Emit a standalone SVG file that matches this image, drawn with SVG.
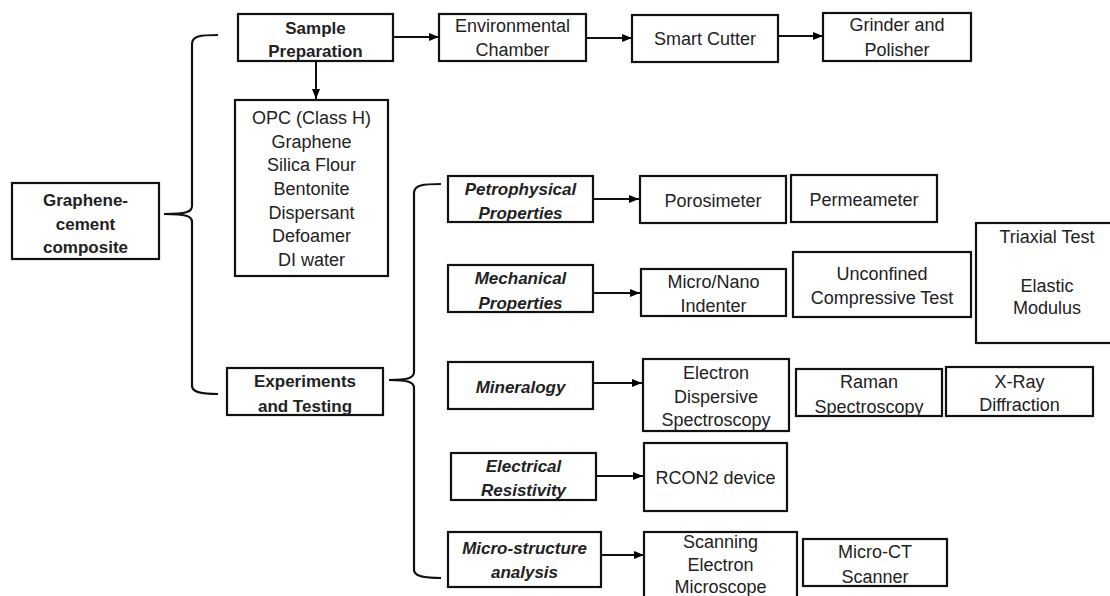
<svg xmlns="http://www.w3.org/2000/svg" width="1110" height="596" viewBox="0 0 1110 596">
<defs>
<marker id="ah" markerUnits="userSpaceOnUse" markerWidth="10" markerHeight="10" viewBox="0 0 10 10" refX="10" refY="5" orient="auto">
<path d="M0,1 L10,5 L0,9 Z" fill="#000"/>
</marker>
<style>
.box{fill:#fff;stroke:#111;stroke-width:2.2}
.t{font-family:"Liberation Sans",Arial,sans-serif;font-size:18px;fill:#222;text-anchor:middle}
.b{font-weight:bold;font-size:17px}
.bi{font-weight:bold;font-style:italic;font-size:17px}
.c{fill:none;stroke:#111;stroke-width:2}
.br{fill:none;stroke:#111;stroke-width:2.2}
</style>
</defs>
<rect width="1110" height="596" fill="#fff"/>
<g id="connectors">
<line class="c" x1="393" y1="37" x2="439" y2="37" marker-end="url(#ah)"/>
<line class="c" x1="586" y1="38" x2="632" y2="38" marker-end="url(#ah)"/>
<line class="c" x1="778" y1="36" x2="823" y2="36" marker-end="url(#ah)"/>
<line class="c" x1="316" y1="61" x2="316" y2="99" marker-end="url(#ah)"/>
<line class="c" x1="593" y1="199" x2="639" y2="199" marker-end="url(#ah)"/>
<line class="c" x1="593" y1="293" x2="640" y2="293" marker-end="url(#ah)"/>
<line class="c" x1="593" y1="383" x2="642" y2="383" marker-end="url(#ah)"/>
<line class="c" x1="596" y1="476" x2="643" y2="476" marker-end="url(#ah)"/>
<line class="c" x1="601" y1="555" x2="644" y2="555" marker-end="url(#ah)"/>
<path class="br" d="M218,35 C200,35 192,36 192,44 V206 C192,212 186,214 164,214 C186,214 192,216 192,222 V386 C192,392 200,394 218,394"/>
<path class="br" d="M441,184 C423,184 414,185 414,193 V372 C414,378 408,380 389,380 C408,380 414,382 414,388 V570 C414,576 423,578 441,578"/>
</g>
<g id="composite"><rect class="box" x="12" y="183" width="147" height="76"/>
<text class="t b" x="85.5" y="206">Graphene-</text><text class="t b" x="85.5" y="230">cement</text><text class="t b" x="85.5" y="253">composite</text></g>
<g id="sample-prep"><rect class="box" x="238" y="14" width="155" height="47"/>
<text class="t b" x="315.5" y="34">Sample</text><text class="t b" x="315.5" y="57">Preparation</text></g>
<g id="materials"><rect class="box" x="235" y="100" width="153" height="176"/>
<text class="t" x="311.5" y="124">OPC (Class H)</text>
<text class="t" x="311.5" y="148">Graphene</text>
<text class="t" x="311.5" y="171">Silica Flour</text>
<text class="t" x="311.5" y="195">Bentonite</text>
<text class="t" x="311.5" y="219">Dispersant</text>
<text class="t" x="311.5" y="242">Defoamer</text>
<text class="t" x="311.5" y="266">DI water</text></g>
<g id="env-chamber"><rect class="box" x="439" y="14" width="147" height="47"/>
<text class="t" x="512.5" y="32">Environmental</text><text class="t" x="512.5" y="56">Chamber</text></g>
<g id="smart-cutter"><rect class="box" x="632" y="15" width="146" height="47"/>
<text class="t" x="705" y="45">Smart Cutter</text></g>
<g id="grinder"><rect class="box" x="823" y="13" width="148" height="48"/>
<text class="t" x="897" y="31">Grinder and</text><text class="t" x="897" y="56">Polisher</text></g>
<g id="experiments"><rect class="box" x="227" y="368" width="156" height="47"/>
<text class="t b" x="305" y="387">Experiments</text><text class="t b" x="305" y="412">and Testing</text></g>
<g id="petrophysical"><rect class="box" x="448" y="176" width="145" height="46"/>
<text class="t bi" x="520.5" y="195">Petrophysical</text><text class="t bi" x="520.5" y="219">Properties</text></g>
<g id="porosimeter"><rect class="box" x="640" y="176" width="146" height="47"/>
<text class="t" x="713" y="207">Porosimeter</text></g>
<g id="permeameter"><rect class="box" x="791" y="175" width="146" height="47"/>
<text class="t" x="864" y="206">Permeameter</text></g>
<g id="mechanical"><rect class="box" x="448" y="265" width="145" height="47"/>
<text class="t bi" x="520.5" y="284">Mechanical</text><text class="t bi" x="520.5" y="309">Properties</text></g>
<g id="indenter"><rect class="box" x="641" y="269" width="145" height="47"/>
<text class="t" x="713.5" y="288">Micro/Nano</text><text class="t" x="713.5" y="312">Indenter</text></g>
<g id="ucs"><rect class="box" x="793" y="252" width="178" height="65"/>
<text class="t" x="882" y="280">Unconfined</text><text class="t" x="882" y="304">Compressive Test</text></g>
<g id="triaxial"><rect class="box" x="976" y="223" width="145" height="120"/>
<text class="t" x="1047" y="243">Triaxial Test</text><text class="t" x="1047" y="292">Elastic</text><text class="t" x="1047" y="314">Modulus</text></g>
<g id="mineralogy"><rect class="box" x="448" y="362" width="145" height="47"/>
<text class="t bi" x="520.5" y="393">Mineralogy</text></g>
<g id="eds"><rect class="box" x="643" y="359" width="146" height="72"/>
<text class="t" x="716" y="379">Electron</text><text class="t" x="716" y="403">Dispersive</text><text class="t" x="716" y="426">Spectroscopy</text></g>
<g id="raman"><rect class="box" x="796" y="369" width="146" height="47"/>
<text class="t" x="869" y="388">Raman</text><text class="t" x="869" y="413">Spectroscopy</text></g>
<g id="xray"><rect class="box" x="946" y="367" width="147" height="49"/>
<text class="t" x="1019.5" y="388">X-Ray</text><text class="t" x="1019.5" y="411">Diffraction</text></g>
<g id="electrical"><rect class="box" x="451" y="453" width="145" height="47"/>
<text class="t bi" x="523.5" y="472">Electrical</text><text class="t bi" x="523.5" y="496">Resistivity</text></g>
<g id="rcon2"><rect class="box" x="644" y="443" width="143" height="68"/>
<text class="t" x="715.5" y="484">RCON2 device</text></g>
<g id="microstructure"><rect class="box" x="448" y="532" width="153" height="55"/>
<text class="t bi" x="524.5" y="554">Micro-structure</text><text class="t bi" x="524.5" y="578">analysis</text></g>
<g id="sem"><rect class="box" x="644" y="532" width="153" height="80"/>
<text class="t" x="720.5" y="548">Scanning</text><text class="t" x="720.5" y="571">Electron</text><text class="t" x="720.5" y="593">Microscope</text></g>
<g id="microct"><rect class="box" x="803" y="539" width="144" height="47"/>
<text class="t" x="875" y="558">Micro-CT</text><text class="t" x="875" y="583">Scanner</text></g>
</svg>
